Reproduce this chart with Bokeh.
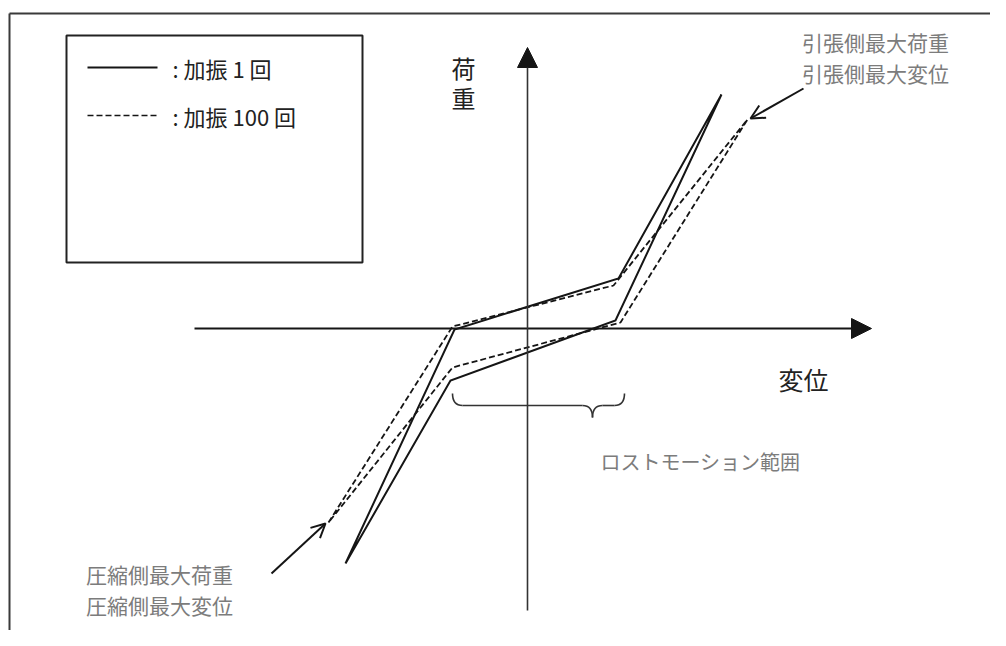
from bokeh.plotting import figure
from bokeh.models import Arrow, NormalHead, OpenHead, Label, Range1d, BoxAnnotation
from bokeh.embed import file_html
from bokeh.resources import INLINE

# ---- data (origin = crossing of the axes) ----
# solid loop: 加振1回  (displacement, load)
disp_1 = [-182, -73, 91, 194, 88, -77, -182]
load_1 = [-235, -1, 50, 234, 8, -52, -235]
# dashed loop: 加振100回
disp_100 = [-199, -75, 86, 220, 93, -75, -199]
load_100 = [-194, 2, 43, 209, 6, -39, -194]
# lost-motion range (displacement)
lost_motion = [-75, 97]

series_labels = [": 加振 1 回", ": 加振 100 回"]
x_label = "変位"
y_label = "荷\n重"
tension_labels = ["引張側最大荷重", "引張側最大変位"]
compression_labels = ["圧縮側最大荷重", "圧縮側最大変位"]
range_label = "ロストモーション範囲"

# ---- layout helpers (page pixel -> data) ----
OX, OY = 527, 328
def X(px):
    return px - OX
def Y(py):
    return OY - py

FONT = "Noto Sans CJK JP"
INK = "#151515"
GRAY = "#7c7c7c"

p = figure(width=990, height=630,
           x_range=Range1d(X(0), X(990)), y_range=Range1d(Y(630), Y(0)),
           x_axis_type=None, y_axis_type=None,
           output_backend="svg", toolbar_location=None, min_border=0)
p.grid.visible = False
p.outline_line_color = None
p.background_fill_color = "white"

# outer frame (top and left edges)
p.segment(x0=[X(9), X(9)], y0=[Y(13), Y(13)], x1=[X(1000), X(9)], y1=[Y(13), Y(640)],
          line_color="#3a3a3a", line_width=2)

# axes with arrow heads
p.add_layout(Arrow(x_start=X(194), y_start=0, x_end=X(871), y_end=0,
                   line_color=INK, line_width=2.2,
                   end=NormalHead(size=20, fill_color=INK, line_color=INK)))
p.add_layout(Arrow(x_start=0, y_start=Y(610), x_end=0, y_end=Y(47),
                   line_color="#333", line_width=1.6,
                   end=NormalHead(size=20, fill_color=INK, line_color=INK)))

# hysteresis loops
p.line(disp_1, load_1, line_color=INK, line_width=2, line_join="miter")
p.line(disp_100, load_100, line_color=INK, line_width=1.8, line_dash="6 3")

# legend box
p.add_layout(BoxAnnotation(left=X(66), right=X(362), top=Y(35), bottom=Y(262),
                           fill_alpha=0, line_color="#222", line_alpha=1.0, line_width=2))
p.line([X(87), X(157)], [Y(67), Y(67)], line_color=INK, line_width=1.8)
p.line([X(87), X(157)], [Y(115), Y(115)], line_color=INK, line_width=1.7, line_dash="6 3")
for txt, py in zip(series_labels, [67, 115]):
    p.add_layout(Label(x=X(172), y=Y(py), text=txt, text_baseline="middle",
                       text_align="left", text_font=FONT, text_font_size="22px",
                       text_color="#222"))

# axis titles
p.add_layout(Label(x=X(463), y=Y(82), text=y_label, text_baseline="middle",
                   text_align="center", text_font=FONT, text_font_size="24px",
                   text_color="#222", text_line_height=0.87))
p.add_layout(Label(x=X(803), y=Y(378), text=x_label, text_baseline="middle",
                   text_align="center", text_font=FONT, text_font_size="25px",
                   text_color="#222"))

# brace for lost-motion range
L, R = lost_motion
tip = X(592)
yb, yl, yt = Y(393), Y(405), Y(417)
p.quadratic(x0=[L, tip - 10, tip, R - 10], y0=[yb, yl, yt, yl],
            x1=[L + 10, tip, tip + 10, R], y1=[yl, yt, yl, yb],
            cx=[L, tip, tip, R], cy=[yl, yl, yl, yl],
            line_color="#333", line_width=1.6)
p.segment(x0=[L + 10, tip + 10], y0=[yl, yl], x1=[tip - 10, R - 10], y1=[yl, yl],
          line_color="#333", line_width=1.6)
p.add_layout(Label(x=X(700), y=Y(461), text=range_label, text_baseline="middle",
                   text_align="center", text_font=FONT, text_font_size="20px",
                   text_color=GRAY))

# tension-side annotation
for txt, py in zip(tension_labels, [41, 72]):
    p.add_layout(Label(x=X(875), y=Y(py), text=txt, text_baseline="middle",
                       text_align="center", text_font=FONT, text_font_size="21px",
                       text_color=GRAY))
p.add_layout(Arrow(x_start=X(803), y_start=Y(88), x_end=disp_100[3] + 3, y_end=load_100[3] + 1,
                   line_color=INK, line_width=2,
                   end=OpenHead(size=14, line_color=INK, line_width=2)))

# compression-side annotation
for txt, py in zip(compression_labels, [573, 604]):
    p.add_layout(Label(x=X(159), y=Y(py), text=txt, text_baseline="middle",
                       text_align="center", text_font=FONT, text_font_size="21px",
                       text_color=GRAY))
p.add_layout(Arrow(x_start=X(271), y_start=Y(573), x_end=disp_100[0] - 3, y_end=load_100[0] - 1,
                   line_color=INK, line_width=2,
                   end=OpenHead(size=14, line_color=INK, line_width=2)))

open("out.html", "w").write(file_html(p, INLINE))
